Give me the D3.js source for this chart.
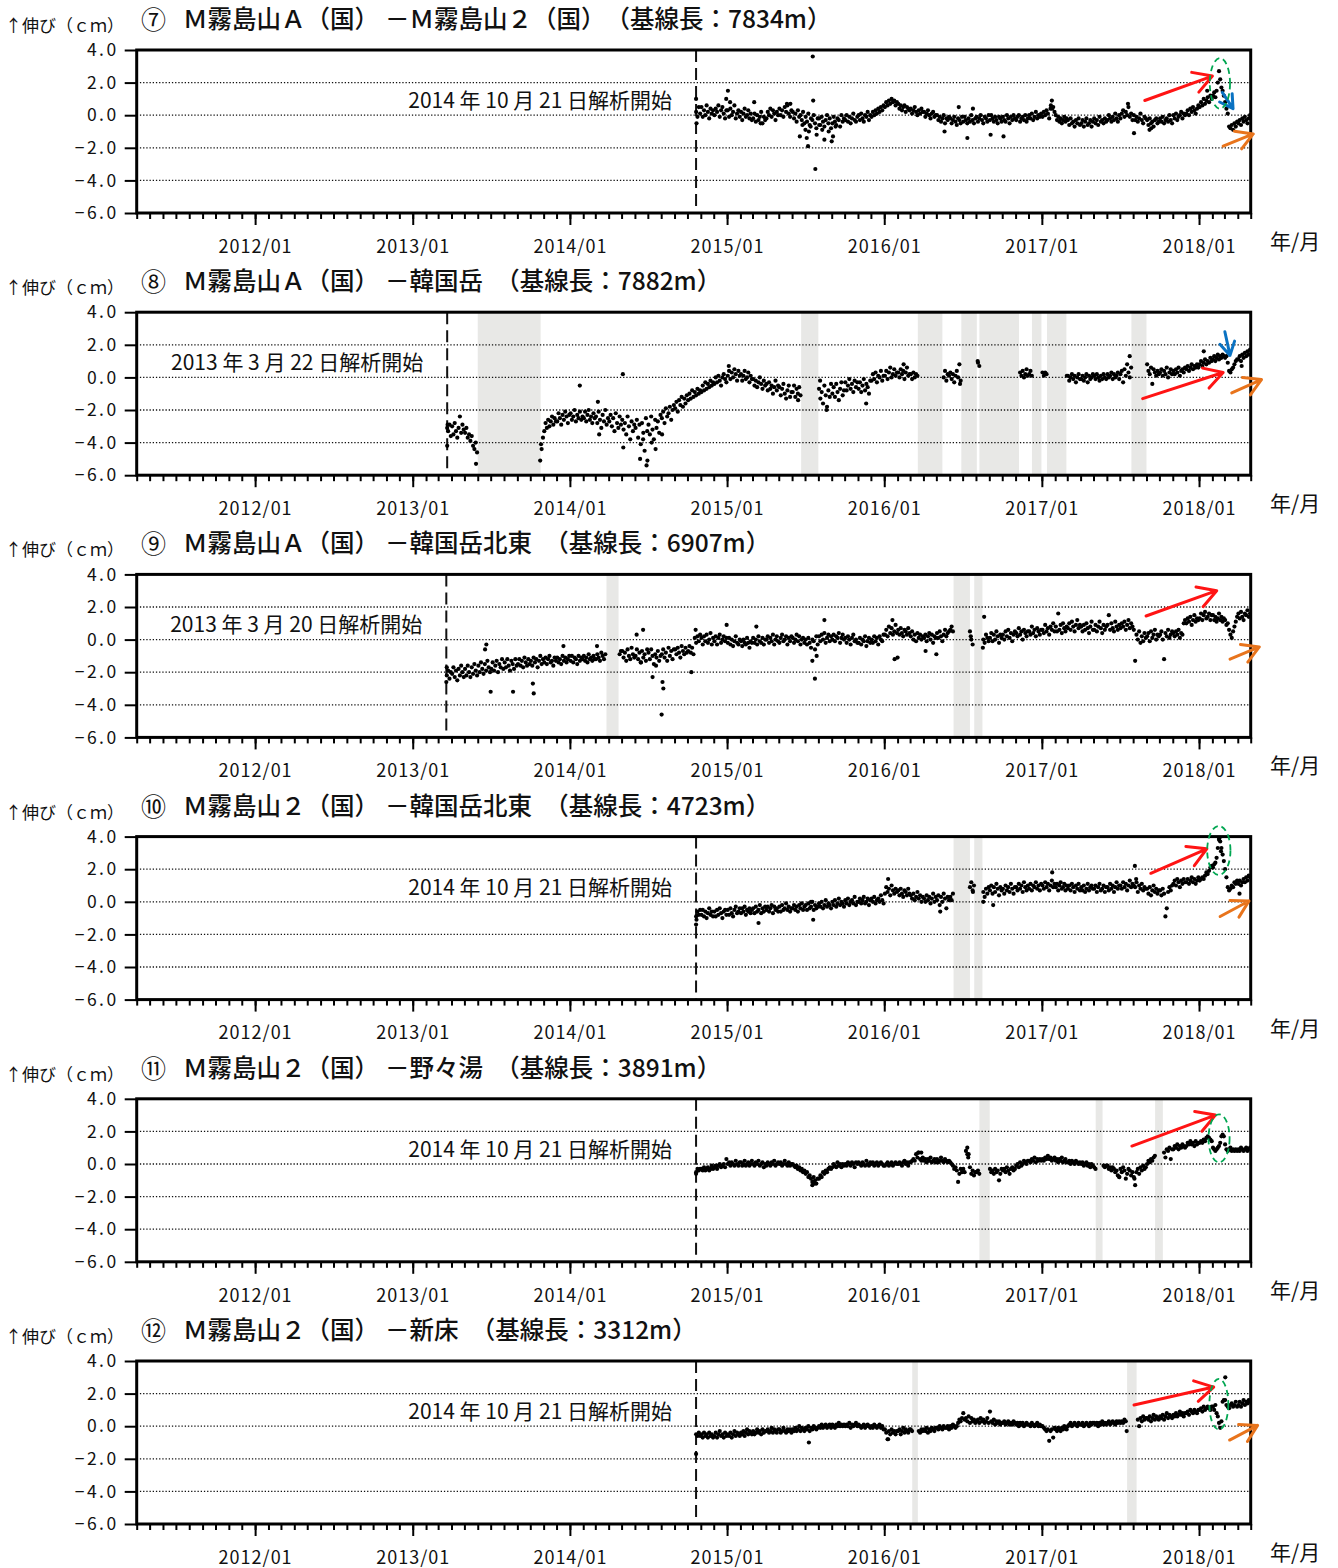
<!DOCTYPE html>
<html lang="ja">
<head>
<meta charset="utf-8">
<title>霧島山 GNSS 基線長変化</title>
<script src="https://cdn.jsdelivr.net/npm/d3@7/dist/d3.min.js"></script>
<style>
  html, body { margin: 0; padding: 0; background: #fff; }
  svg text { font-family: "Noto Sans CJK JP", "Noto Sans", sans-serif; fill: #111; }
</style>
</head>
<body>
<svg id="chart" width="1338" height="1568"></svg>
<script>
// ---------- axes ----------
const timeSpan = ["2011-04-01", "2018-05-01"];
const yTicks = [4, 2, 0, -2, -4, -6];
const gridValues = [2, 0, -2, -4];
const yearTickLabels = ["2012/01", "2013/01", "2014/01", "2015/01", "2016/01", "2017/01", "2018/01"];

// ---------- panel headings ----------
const panelNumbers = ["⑦", "⑧", "⑨", "⑩", "⑪", "⑫"];
const fromStations = ["Ｍ霧島山Ａ（国）", "Ｍ霧島山Ａ（国）", "Ｍ霧島山Ａ（国）", "Ｍ霧島山２（国）", "Ｍ霧島山２（国）", "Ｍ霧島山２（国）"];
const toStations = ["Ｍ霧島山２（国）", "韓国岳", "韓国岳北東", "韓国岳北東", "野々湯", "新床"];
const baselineLengths = [7834, 7882, 6907, 4723, 3891, 3312];
const analysisStart = ["2014-10-21", "2013-03-22", "2013-03-20", "2014-10-21", "2014-10-21", "2014-10-21"];

// ---------- periods without observations (grey bands) ----------
const noDataPeriods = [
  [],
  [["2013-06-01", "2013-10-25"], ["2015-06-22", "2015-08-01"], ["2016-03-19", "2016-05-15"], ["2016-06-28", "2016-08-03"],
   ["2016-08-09", "2016-11-09"], ["2016-12-09", "2016-12-31"], ["2017-01-13", "2017-02-27"], ["2017-07-28", "2017-09-01"]],
  [["2014-03-27", "2014-04-24"], ["2016-06-10", "2016-07-18"], ["2016-07-28", "2016-08-16"]],
  [["2016-06-10", "2016-07-18"], ["2016-07-28", "2016-08-16"]],
  [["2016-08-09", "2016-09-02"], ["2017-05-06", "2017-05-22"], ["2017-09-21", "2017-10-09"]],
  [["2016-03-06", "2016-03-19"], ["2017-07-18", "2017-08-09"]]
];

// ---------- daily baseline changes, in mm, grouped by month ----------
// each row: month, then that month's solutions in date order (null = no solution)
const obs07 = [
["2014-10",null,null,null,null,null,null,2,-1,5,1],
["2014-11",5,-1,3,0,6,2,-2,4,1,3],
["2014-12",0,4,2,6,-1,3,5,1,-2,3],
["2015-01",3,-1,4,0,2,6,-2,1,3,-1],
["2015-02",2,-3,1,4,-1,0,3,-2,1,-3],
["2015-03",-2,1,-4,0,-3,-1,2,-5,-1,-3],
["2015-04",-2,2,0,4,-1,3,1,-3,2,0],
["2015-05",4,0,3,-1,5,2,6,1,-1,3],
["2015-06",2,-2,1,-4,3,-1,0,-3,2,-5],
["2015-07",-1,-4,1,-6,-2,-3,0,-5,-8,-2],
["2015-08",-2,-6,-1,-4,-7,-3,0,-5,-2,-8],
["2015-09",-5,-1,-4,-6,-2,-3,-7,0,-4,-2],
["2015-10",-3,0,-4,-1,-5,-2,1,-3,-4,-1],
["2015-11",0,-3,1,-2,-4,0,-1,2,-3,0],
["2015-12",-1,2,0,3,1,4,2,5,3,6],
["2016-01",5,8,6,9,7,10,8,9,6,8],
["2016-02",7,4,6,3,5,6,2,5,4,3],
["2016-03",4,1,3,5,2,0,3,1,4,2],
["2016-04",2,-1,1,3,0,-2,1,2,-1,0],
["2016-05",0,-3,-1,-4,-2,0,-5,-2,-3,-1],
["2016-06",-2,-5,-3,-1,-4,-6,-2,-3,-5,-1],
["2016-07",-4,-1,-3,-5,-2,-4,0,-3,-5,-2],
["2016-08",-1,-4,-2,0,-3,-5,-1,-2,-4,0],
["2016-09",-3,0,-2,-4,-1,-3,-5,-1,-2,-4],
["2016-10",-1,-3,-4,0,-2,-5,-1,-3,0,-2],
["2016-11",-3,-1,0,-4,-2,-1,-3,0,-4,-2],
["2016-12",0,-2,1,-3,-1,2,-2,0,-1,1],
["2017-01",-1,2,0,3,1,-2,4,9,5,2],
["2017-02",0,-3,-1,-4,-2,-5,-3,-1,-4,-2],
["2017-03",-3,-6,-2,-5,-4,-7,-3,-5,-2,-6],
["2017-04",-5,-3,-7,-4,-2,-6,-5,-3,-7,-4],
["2017-05",-2,-5,-3,-6,-1,-4,-3,-5,-2,-4],
["2017-06",-3,0,-2,-4,-1,-3,1,-2,-4,0],
["2017-07",-2,1,3,-1,2,0,5,-1,1,-3],
["2017-08",0,-3,-1,-4,-2,1,-3,-5,-1,-2],
["2017-09",-3,-6,-2,-5,-4,-7,-3,-2,-5,-4],
["2017-10",-2,-4,-1,-5,-3,-2,-4,0,-3,-5],
["2017-11",0,-2,1,-3,-1,0,2,-2,1,0],
["2017-12",1,3,0,4,2,5,3,1,4,6],
["2018-01",5,8,6,10,7,9,11,8,12,10],
["2018-02",12,14,11,15,20,27,22,17,15,12],
["2018-03",8,4,1,-7,-8,-6,-9,-5,-7,-4],
["2018-04",-5,-3,-6,-2,-4,-1,-3,-5,-2,0]
];
const extra07 = [["2014-10-21",10],["2014-10-22",-5],["2014-12-30",10],["2015-01-03",15],["2015-01-08",8],["2015-03-05",8],
["2015-03-20",-5],["2015-05-20",7],["2015-05-28",7],["2015-06-19",-13],["2015-06-25",-6],["2015-07-02",-9],["2015-07-05",-14],
["2015-07-08",-19],["2015-07-10",-10],["2015-07-14",-7],["2015-07-19",36],["2015-07-20",9],["2015-07-25",-33],["2015-07-28",-12],
["2015-08-03",-6],["2015-08-10",-9],["2015-08-15",-15],["2015-08-25",-10],["2015-09-01",-16],["2015-09-04",-13],["2015-09-10",-7],
["2016-05-20",-10],["2016-06-22",5],["2016-07-12",-14],["2016-07-25",4],["2016-09-04",-12],["2016-10-04",-13],["2017-01-22",6],
["2017-01-25",4],["2017-07-20",7],["2017-08-03",-11],["2017-09-08",-9],["2017-09-12",-8],["2018-01-20",15]];

const obs08 = [
["2013-03",null,null,null,null,null,null,null,-33,-29,-36],
["2013-04",-30,-35,-28,-33,-37,-31,-24,-34,-29,-32],
["2013-05",-34,-31,-37,-35,-39,-36,-42,-44,-40,-46],
["2013-10",null,null,null,null,null,null,null,null,-44,-37],
["2013-11",-33,-28,-31,-26,-30,-27,-24,-29,-25,-27],
["2013-12",-27,-22,-25,-29,-23,-26,-21,-24,-28,-23],
["2014-01",-22,-26,-24,-20,-27,-23,-25,-21,-26,-24],
["2014-02",-25,-21,-27,-23,-20,-26,-24,-28,-22,-25],
["2014-03",-24,-28,-21,-26,-31,-23,-27,-20,-29,-25],
["2014-04",-27,-23,-30,-25,-33,-22,-28,-31,-24,-29],
["2014-05",-26,-32,-28,-35,-24,-30,-38,-27,-33,-29],
["2014-06",-31,-26,-37,-29,-41,-28,-34,-45,-25,-33],
["2014-07",-29,-35,-24,-32,-38,-26,-31,-27,-34,-23],
["2014-08",-25,-21,-28,-19,-24,-22,-18,-26,-20,-17],
["2014-09",-19,-15,-21,-14,-17,-12,-18,-13,-16,-11],
["2014-10",-14,-10,-13,-8,-12,-9,-11,-7,-10,-8],
["2014-11",-9,-5,-8,-3,-7,-4,-6,-2,-5,-3],
["2014-12",-4,0,-3,1,-2,-5,0,2,-1,-3],
["2015-01",1,4,-1,3,0,5,2,-2,4,1],
["2015-02",2,-2,1,4,-1,0,3,-3,1,-1],
["2015-03",-1,-5,-2,-6,-3,0,-4,-7,-2,-5],
["2015-04",-4,-8,-3,-7,-5,-10,-6,-2,-8,-5],
["2015-05",-6,-11,-7,-4,-10,-13,-8,-5,-12,-9],
["2015-06",-9,-5,-12,-7,-10,-6,-11,null,null,null],
["2015-08",-7,-13,-9,-16,-5,-11,-18,-8,-12,-4],
["2015-09",-10,-6,-12,-4,-9,-14,-7,-3,-11,-8],
["2015-10",-3,-8,-5,-1,-7,-4,-9,-2,-6,-3],
["2015-11",-7,-3,-9,-5,-1,-8,-4,-6,-10,-2],
["2015-12",-2,2,-1,3,-3,1,0,4,-2,1],
["2016-01",1,4,-1,3,6,0,2,5,1,3],
["2016-02",3,0,5,2,4,-1,3,6,1,2],
["2016-03",2,-1,3,0,2,1,null,null,null,null],
["2016-05",null,null,null,null,null,0,4,-2,2,1],
["2016-06",3,-1,2,-3,1,4,0,8,-2,null],
["2016-08",null,9,7,null,null,null,null,null,null,null],
["2016-11",null,null,null,3,1,4,0,2,5,1],
["2016-12",2,4,1,null,null,null,null,null,null,null],
["2017-01",3,1,3,2,null,null,null,null,null,null],
["2017-03",1,-2,0,2,-1,1,-3,0,2,-1],
["2017-04",-1,1,-2,0,2,-3,1,-1,0,2],
["2017-05",1,-1,2,0,-2,1,-1,2,0,-1],
["2017-06",2,0,1,3,-1,2,0,1,3,-1],
["2017-07",2,4,-3,5,1,8,3,0,6,null],
["2017-09",8,4,2,6,-4,5,3,1,4,2],
["2017-10",3,5,1,4,2,6,0,3,5,2],
["2017-11",4,2,5,3,6,1,4,5,3,6],
["2017-12",5,7,4,6,8,5,7,6,8,6],
["2018-01",8,10,7,9,11,8,10,9,12,10],
["2018-02",11,13,10,12,14,11,13,12,14,13],
["2018-03",12,13,9,4,3,5,6,8,10,11],
["2018-04",11,13,10,14,12,15,13,16,14,17]
];
const extra08 = [["2013-03-22",-42],["2013-03-22",-31],["2013-03-23",-29],["2013-05-28",-53],["2013-10-24",-51],["2013-10-26",-41],
["2014-01-24",-5],["2014-03-07",-15],["2014-03-10",-35],["2014-05-04",2],["2014-05-05",-43],["2014-06-13",-50],["2014-06-20",-38],
["2014-06-28",-54],["2014-06-30",-51],["2014-07-10",-40],["2014-07-19",-44],["2014-08-03",-35],["2015-01-05",7],["2015-06-15",-14],
["2015-08-05",-2],["2015-08-20",-20],["2015-11-20",-16],["2016-02-15",8],["2016-06-25",-4],["2016-08-05",10],["2017-02-28",1],
["2017-07-24",13],["2018-01-12",16],["2018-04-10",7]];

const obs09 = [
["2013-03",null,null,null,null,null,null,-22,-19,-24,-20],
["2013-04",-21,-17,-23,-19,-25,-18,-22,-16,-20,-23],
["2013-05",-18,-22,-16,-20,-23,-17,-21,-15,-19,-22],
["2013-06",-16,-20,-14,-18,-21,-15,-19,-13,-17,-20],
["2013-07",-18,-14,-19,-16,-13,-20,-15,-17,-12,-18],
["2013-08",-14,-17,-12,-16,-19,-13,-15,-18,-12,-16],
["2013-09",-15,-12,-16,-13,-17,-11,-14,-16,-12,-15],
["2013-10",-13,-16,-11,-14,-12,-17,-13,-10,-15,-12],
["2013-11",-14,-11,-15,-12,-10,-14,-13,-16,-11,-13],
["2013-12",-11,-14,-12,-15,-10,-13,-11,-14,-12,-10],
["2014-01",-13,-10,-14,-11,-12,-15,-10,-13,-11,-12],
["2014-02",-10,-13,-11,-14,-9,-12,-11,-13,-10,-12],
["2014-03",-12,-9,-11,-13,-8,-10,-12,-9,null,null],
["2014-04",null,null,null,null,null,null,null,null,-9,-7],
["2014-05",-7,-11,-8,-13,-6,-10,-12,-5,-9,-11],
["2014-06",-10,-6,-12,-8,-14,-7,-11,-9,-13,-6],
["2014-07",-8,-12,-6,-10,-15,-9,-11,-7,-13,-10],
["2014-08",-9,-6,-11,-8,-13,-5,-10,-7,-12,-6],
["2014-09",-6,-9,-5,-8,-11,-4,-7,-9,-5,-8],
["2014-10",-7,-4,-8,-5,-9,1,-2,2,-1,3],
["2014-11",1,-3,2,-1,3,-2,0,4,-3,1],
["2014-12",-1,2,-3,1,3,-2,0,2,-1,1],
["2015-01",-2,1,-3,0,-4,-1,2,-2,-3,0],
["2015-02",-1,-4,0,-2,-3,1,-2,-5,-1,-2],
["2015-03",1,-2,0,-3,2,-1,-2,1,-3,0],
["2015-04",0,2,-2,1,-1,3,-3,0,2,-1],
["2015-05",-2,1,3,-1,0,2,-3,1,-1,2],
["2015-06",1,-2,0,3,-1,2,-3,0,1,-2],
["2015-07",0,-3,1,-2,-5,0,-1,-6,2,-3],
["2015-08",2,-1,3,0,4,-2,1,3,-1,2],
["2015-09",0,3,-1,2,1,4,-2,1,3,0],
["2015-10",1,-2,2,0,-3,1,3,-1,0,-2],
["2015-11",-2,1,-3,0,-1,2,-4,-1,1,-2],
["2015-12",0,-2,2,-1,1,-3,2,0,-1,3],
["2016-01",3,6,2,8,4,7,3,5,9,4],
["2016-02",6,3,7,4,2,6,5,3,7,4],
["2016-03",2,5,0,3,-1,4,1,3,0,2],
["2016-04",1,3,-1,2,4,0,3,-2,2,1],
["2016-05",4,1,5,2,-1,3,6,2,4,5],
["2016-06",6,8,5,null,null,null,null,null,null,null],
["2016-07",null,null,null,null,null,5,0,-3,null,null],
["2016-08",null,null,null,null,null,0,-2,3,1,-1],
["2016-09",1,4,-1,3,0,5,2,-2,3,1],
["2016-10",3,0,5,2,6,1,4,-1,3,5],
["2016-11",4,2,7,3,5,0,6,4,2,5],
["2016-12",5,3,8,4,6,2,7,5,3,6],
["2017-01",6,4,9,5,7,3,8,6,10,5],
["2017-02",8,5,16,6,9,4,10,7,5,8],
["2017-03",7,10,6,11,8,5,9,12,7,9],
["2017-04",8,5,9,6,10,7,4,8,11,6],
["2017-05",6,9,5,8,11,7,4,9,6,8],
["2017-06",9,15,6,10,7,5,11,8,6,9],
["2017-07",7,10,8,11,6,9,12,7,10,8],
["2017-08",6,-13,3,0,5,-2,2,-1,4,1],
["2017-09",2,4,-1,5,1,3,6,0,3,2],
["2017-10",3,5,0,-12,4,2,6,1,3,5],
["2017-11",4,2,5,3,6,1,4,3,10,12],
["2017-12",10,13,11,14,9,12,15,11,13,12],
["2018-01",13,16,12,15,17,13,14,16,12,15],
["2018-02",15,12,14,11,13,16,12,14,11,13],
["2018-03",12,9,10,6,3,1,5,8,11,14],
["2018-04",16,13,17,14,12,16,15,18,14,16]
];
const extra09 = [["2013-03-20",-26],["2013-03-21",-17],["2013-06-18",-6],["2013-06-21",-3],["2013-07-01",-32],["2013-08-22",-32],
["2013-10-07",-27],["2013-10-09",-33],["2013-12-17",-4],["2014-03-05",-4],["2014-06-05",3],["2014-06-15",-14],["2014-06-20",6],
["2014-07-12",-23],["2014-07-20",-16],["2014-08-02",-46],["2014-08-04",-26],["2014-08-06",-30],["2014-10-10",-20],["2014-10-20",6],
["2014-12-31",9],["2015-03-10",8],["2015-07-18",-13],["2015-07-24",-24],["2015-07-28",-10],["2015-08-15",12],["2016-01-20",12],
["2016-01-25",-12],["2016-02-01",-11],["2016-04-06",-7],["2016-05-01",-9],["2016-07-20",2],["2016-08-17",-5],["2016-08-20",14]];

const obs10 = [
["2014-10",null,null,null,null,null,null,-9,-6,-8,-5],
["2014-11",-8,-5,-9,-6,-10,-7,-4,-8,-6,-9],
["2014-12",-6,-9,-5,-8,-4,-7,-10,-6,-5,-8],
["2015-01",-5,-8,-4,-7,-9,-5,-3,-7,-6,-4],
["2015-02",-7,-4,-6,-3,-8,-5,-6,-4,-7,-5],
["2015-03",-4,-7,-3,-6,-5,-2,-7,-4,-6,-3],
["2015-04",-5,-3,-6,-4,-2,-7,-3,-5,-4,-6],
["2015-05",-3,-6,-2,-5,-4,-1,-5,-3,-6,-4],
["2015-06",-4,-2,-5,-3,-6,-2,-4,-1,-5,-3],
["2015-07",-2,-5,-1,-4,-3,0,-5,-2,-4,-3],
["2015-08",-1,-3,0,-4,-2,1,-3,-1,-2,-4],
["2015-09",0,-2,1,-3,-1,2,-2,0,-1,-3],
["2015-10",1,-1,2,-2,0,1,-1,3,-2,0],
["2015-11",0,2,-1,1,3,-1,0,2,-2,1],
["2015-12",2,0,3,-1,1,2,0,4,1,-1],
["2016-01",5,9,6,8,4,10,7,5,8,6],
["2016-02",7,4,8,5,3,7,6,4,8,5],
["2016-03",4,2,5,1,3,6,2,4,0,3],
["2016-04",2,0,4,1,3,-1,2,5,0,3],
["2016-05",1,4,-2,3,0,5,2,-4,3,1],
["2016-06",3,1,5,null,null,null,null,null,null,null],
["2016-07",null,null,null,null,null,9,12,7,10,null],
["2016-08",null,null,null,null,null,6,3,8,5,9],
["2016-09",7,10,5,9,6,11,8,4,9,7],
["2016-10",8,5,10,7,9,6,11,8,5,9],
["2016-11",9,7,11,8,10,6,12,9,7,10],
["2016-12",8,11,7,10,9,12,8,10,7,11],
["2017-01",10,8,12,9,11,7,10,13,9,11],
["2017-02",9,11,7,10,12,8,9,11,7,10],
["2017-03",8,10,7,11,9,6,10,8,11,7],
["2017-04",9,7,10,6,8,11,7,9,10,8],
["2017-05",8,10,6,9,11,7,8,10,6,9],
["2017-06",9,7,11,8,10,6,9,12,8,10],
["2017-07",10,8,12,9,11,7,10,13,9,11],
["2017-08",10,9,12,6,10,8,11,7,9,8],
["2017-09",8,5,9,4,7,10,6,8,5,7],
["2017-10",7,4,8,5,-9,-4,6,9,7,10],
["2017-11",11,13,10,14,12,9,13,11,14,12],
["2017-12",12,14,11,13,15,12,14,11,13,15],
["2018-01",13,14,15,14,16,18,17,19,21,22],
["2018-02",21,23,24,27,33,38,37,33,29,25],
["2018-03",20,15,9,7,8,10,9,12,11,13],
["2018-04",11,13,10,12,14,12,15,13,16,15]
];
const extra10 = [["2014-10-21",-14],["2014-10-22",-11],["2015-03-15",-13],["2015-07-15",0],["2015-07-20",-11],["2016-01-10",14],
["2016-05-10",-6],["2016-07-25",6],["2016-08-18",0],["2016-09-10",-2],["2017-01-25",18],["2017-08-05",22],["2017-08-08",14],
["2018-02-17",39],["2018-02-21",31],["2018-04-05",5]];

const obs11 = [
["2014-10",null,null,null,null,null,null,-5,-3,-4,-3],
["2014-11",-3,-4,-2,-4,-3,-2,-4,-3,-1,-3],
["2014-12",-2,-1,-3,-1,0,-2,-1,0,-2,3],
["2015-01",0,1,-1,1,0,-1,2,0,-1,1],
["2015-02",1,-1,0,2,-1,0,1,-1,0,2],
["2015-03",0,-1,1,0,2,-1,0,1,-2,0],
["2015-04",-1,1,0,-1,1,0,2,-1,0,1],
["2015-05",0,1,-1,0,2,0,-1,1,-1,0],
["2015-06",0,-1,-2,-1,-3,-2,-4,-3,-5,-4],
["2015-07",-6,-5,-8,-7,-9,-11,-8,-10,-12,-9],
["2015-08",-9,-7,-8,-5,-6,-4,-5,-3,-2,-3],
["2015-09",-2,0,-1,-2,1,-1,0,-2,0,-1],
["2015-10",0,-1,1,0,-1,1,0,-2,1,0],
["2015-11",1,0,-1,1,0,-1,2,0,-1,1],
["2015-12",0,1,-1,0,1,-1,0,1,0,-1],
["2016-01",-1,0,1,-1,0,1,-1,0,1,0],
["2016-02",0,1,0,-1,1,2,0,1,-1,1],
["2016-03",1,2,3,2,6,4,7,3,2,4],
["2016-04",2,3,1,3,2,4,1,2,3,1],
["2016-05",3,1,2,4,2,1,3,2,1,2],
["2016-06",1,0,-1,-3,-2,-4,-11,-6,-3,-5],
["2016-07",-3,-5,8,10,6,-2,-6,-4,-7,-5],
["2016-08",-5,-4,-6,null,null,null,null,null,null,null],
["2016-09",-3,-5,-4,-6,-3,-5,-4,-10,-6,-3],
["2016-10",-4,-3,-5,-2,-4,-6,-3,-2,-4,-3],
["2016-11",-1,0,-2,1,-1,0,2,1,0,2],
["2016-12",2,1,3,2,4,1,3,2,3,2],
["2017-01",3,2,4,3,5,3,4,2,3,4],
["2017-02",2,3,1,3,2,4,1,2,3,1],
["2017-03",1,2,0,2,1,0,2,1,0,1],
["2017-04",0,1,-1,0,1,-1,0,-2,0,-1],
["2017-05",-2,-3,null,null,null,null,null,-1,-2,-1],
["2017-06",-1,-3,-2,-4,-2,-3,-5,-4,-7,-8],
["2017-07",-3,-5,-2,-4,-9,-6,-3,-4,-7,-5],
["2017-08",-8,-13,-5,-3,-6,-2,-4,-1,-3,-2],
["2017-09",0,2,1,3,2,4,5,null,null,null],
["2017-10",null,null,null,7,4,9,8,10,3,9],
["2017-11",9,11,10,12,9,11,10,12,11,10],
["2017-12",11,13,12,14,12,13,11,14,12,13],
["2018-01",13,14,13,15,14,16,17,16,15,14],
["2018-02",10,9,8,9,10,11,13,17,18,17],
["2018-03",12,9,8,9,10,8,9,8,9,8],
["2018-04",9,8,10,9,8,9,10,8,9,10]
];
const extra11 = [["2014-10-21",-6],["2015-07-18",-13],["2015-07-24",-12],["2016-03-20",7],["2016-03-27",7],["2016-07-12",6],
["2016-07-14",4],["2017-06-30",-8],["2017-08-04",-9]];

const obs12 = [
["2014-10",null,null,null,null,null,null,-5,-6,-4,-6],
["2014-11",-5,-7,-4,-6,-5,-7,-4,-6,-5,-7],
["2014-12",-6,-4,-7,-5,-3,-6,-5,-7,-4,-6],
["2015-01",-5,-6,-4,-7,-5,-3,-6,-4,-5,-6],
["2015-02",-4,-5,-3,-6,-4,-2,-5,-3,-4,-5],
["2015-03",-3,-5,-4,-2,-4,-3,-5,-2,-4,-3],
["2015-04",-3,-2,-4,-3,-1,-4,-2,-3,-4,-2],
["2015-05",-2,-4,-3,-1,-3,-4,-2,-3,-2,-4],
["2015-06",-2,-3,-1,-3,-2,0,-3,-1,-2,-3],
["2015-07",-1,-2,0,-3,-1,-2,0,-1,-2,-1],
["2015-08",0,-1,1,-1,0,1,-1,0,1,-1],
["2015-09",1,0,-1,1,0,2,0,1,0,1],
["2015-10",0,1,0,2,-1,1,0,1,2,0],
["2015-11",1,0,-1,0,1,-1,0,1,0,-1],
["2015-12",0,-1,1,0,-1,0,1,-1,0,-2],
["2016-01",-2,-4,-8,-3,-5,-2,-4,-3,-5,-3],
["2016-02",-3,-2,-5,-3,-1,-4,-2,-3,-4,-2],
["2016-03",-2,-3,null,null,null,null,-3,-4,-2,-3],
["2016-04",-2,-3,-1,-4,-2,-3,-1,-2,-3,-1],
["2016-05",-1,-2,0,-1,-2,0,-1,-1,0,-2],
["2016-06",0,-1,1,0,-1,0,2,4,3,5],
["2016-07",8,4,5,3,6,2,5,3,4,2],
["2016-08",3,4,2,5,3,4,2,3,5,2],
["2016-09",9,3,2,4,1,3,2,3,1,2],
["2016-10",2,3,1,2,3,1,2,1,3,2],
["2016-11",1,2,0,2,1,2,0,1,2,1],
["2016-12",1,0,2,1,0,1,2,0,1,0],
["2017-01",0,-1,-2,-3,-2,-9,-3,-2,-7,-1],
["2017-02",-2,-3,-1,-2,-3,-1,-2,0,-1,-2],
["2017-03",0,1,2,0,1,2,1,0,2,1],
["2017-04",1,2,0,1,2,1,0,2,1,2],
["2017-05",2,1,2,0,2,1,3,1,2,1],
["2017-06",2,3,1,2,3,2,1,3,2,3],
["2017-07",2,3,2,4,3,null,null,null,null,null],
["2017-08",null,null,null,4,0,5,3,6,4,5],
["2017-09",5,4,6,3,5,7,4,6,5,4],
["2017-10",6,5,7,4,6,8,5,7,6,5],
["2017-11",7,6,8,6,7,9,7,8,6,8],
["2017-12",8,9,7,10,9,8,10,9,8,10],
["2018-01",10,11,9,12,10,11,12,11,10,12],
["2018-02",12,10,13,8,6,2,-1,3,15,16],
["2018-03",16,13,12,11,13,14,12,13,15,12],
["2018-04",13,15,12,14,16,13,15,14,16,15]
];
const extra12 = [["2014-10-21",-17],["2015-07-10",-10],["2016-01-10",-8],["2017-07-17",-3],["2018-03-03",30]];

const observations = [obs07, obs08, obs09, obs10, obs11, obs12];
const extraPoints = [extra07, extra08, extra09, extra10, extra11, extra12];

// ---------- hand-drawn highlights ----------
// panel, kind, tail date, tail value (cm), head date, head value (cm)
const arrowMarks = [
  [0, "rise", "2017-08-28", 0.9, "2018-02-01", 2.4],
  [0, "drop", "2018-02-24", 1.4, "2018-03-21", 0.4],
  [0, "recent", "2018-02-26", -1.9, "2018-05-07", -1.15],
  [1, "drop", "2018-03-02", 2.8, "2018-03-14", 1.35],
  [1, "rise", "2017-08-23", -1.3, "2018-02-26", 0.3],
  [1, "recent", "2018-03-18", -0.95, "2018-05-26", -0.13],
  [2, "rise", "2017-08-31", 1.45, "2018-02-11", 3.0],
  [2, "recent", "2018-03-14", -1.2, "2018-05-21", -0.45],
  [3, "rise", "2017-09-11", 1.75, "2018-01-19", 3.25],
  [3, "recent", "2018-02-19", -0.9, "2018-04-27", 0.05],
  [4, "rise", "2017-07-29", 1.1, "2018-02-08", 3.0],
  [5, "rise", "2017-08-03", 1.3, "2018-02-04", 2.4],
  [5, "recent", "2018-03-13", -0.85, "2018-05-17", 0.05]
];
// panel, from date, to date, upper value (cm), lower value (cm)
const ringMarks = [
  [0, "2018-01-26", "2018-03-14", 3.5, 0.4],
  [3, "2018-01-20", "2018-03-15", 4.65, 1.65],
  [4, "2018-01-23", "2018-03-13", 3.05, 0.1],
  [5, "2018-01-25", "2018-03-10", 2.9, -0.2]
];

// ---------- drawing ----------
const arrowStyle = {
  rise:   { color: "#ff1414", width: 3, head: 21 },
  drop:   { color: "#0a72c2", width: 3, head: 15 },
  recent: { color: "#e8741c", width: 3, head: 19 }
};
const plotLeft = 136.7, plotRight = 1250.7, plotH = 163, firstTop = 50, panelStep = 262.2;

const parseDay = d3.timeParse("%Y-%m-%d");
const parseMonth = d3.timeParse("%Y-%m");
const parseTick = d3.timeParse("%Y/%m");
const svg = d3.select("#chart");

const x = d3.scaleTime().domain(timeSpan.map(parseDay)).range([plotLeft, plotRight]);

// spread each month's solutions evenly over that month
function expand(rows, extras) {
  const pts = [];
  rows.forEach(([label, ...vals]) => {
    const start = parseMonth(label), end = d3.timeMonth.offset(start, 1);
    const span = end - start;
    vals.forEach((v, i) => {
      if (v !== null) pts.push([new Date(+start + (i + 0.5) * span / vals.length), v / 10]);
    });
  });
  extras.forEach(([d, v]) => pts.push([parseDay(d), v / 10]));
  return pts;
}

function arrowPath(x1, y1, x2, y2, len) {
  const a = Math.atan2(y2 - y1, x2 - x1), s = Math.PI / 6;
  const w1 = [x2 - len * Math.cos(a - s), y2 - len * Math.sin(a - s)];
  const w2 = [x2 - len * Math.cos(a + s), y2 - len * Math.sin(a + s)];
  return `M${x1},${y1}L${x2},${y2}M${w1[0]},${w1[1]}L${x2},${y2}L${w2[0]},${w2[1]}`;
}

const startFmt = d => `${d.getFullYear()} 年 ${d.getMonth() + 1} 月 ${d.getDate()} 日解析開始`;

panelNumbers.forEach((num, i) => {
  const top = firstTop + i * panelStep, bottom = top + plotH;
  const y = d3.scaleLinear().domain([-6, 4]).range([bottom, top]);
  const g = svg.append("g");

  g.append("clipPath").attr("id", `clip${i}`)
    .append("rect").attr("x", plotLeft).attr("y", top).attr("width", plotRight - plotLeft).attr("height", plotH);

  // grey bands
  g.append("g").selectAll("rect").data(noDataPeriods[i]).join("rect")
    .attr("x", d => x(parseDay(d[0]))).attr("width", d => x(parseDay(d[1])) - x(parseDay(d[0])))
    .attr("y", top).attr("height", plotH).attr("fill", "#e8e8e6");

  // dotted grid
  g.append("g").selectAll("line").data(gridValues).join("line")
    .attr("x1", plotLeft).attr("x2", plotRight).attr("y1", d => y(d)).attr("y2", d => y(d))
    .attr("stroke", "#111").attr("stroke-width", 1.3).attr("stroke-dasharray", "1.3,1.9");

  // analysis start
  const s = parseDay(analysisStart[i]);
  g.append("line").attr("x1", x(s)).attr("x2", x(s)).attr("y1", top).attr("y2", bottom)
    .attr("stroke", "#111").attr("stroke-width", 2).attr("stroke-dasharray", "12,6");
  g.append("text").attr("x", x(s) - 24).attr("y", top + 58).attr("text-anchor", "end")
    .attr("font-size", 21).text(startFmt(s));

  // observations
  g.append("g").attr("clip-path", `url(#clip${i})`).selectAll("circle")
    .data(expand(observations[i], extraPoints[i])).join("circle")
    .attr("cx", d => x(d[0])).attr("cy", d => y(d[1])).attr("r", 2.1).attr("fill", "#000");

  // frame
  g.append("rect").attr("x", plotLeft).attr("y", top).attr("width", plotRight - plotLeft).attr("height", plotH)
    .attr("fill", "none").attr("stroke", "#000").attr("stroke-width", 3);

  // x axis: monthly minor ticks + yearly labelled ticks
  const xMinor = g.append("g").attr("transform", `translate(0,${bottom})`)
    .call(d3.axisBottom(x).ticks(d3.timeMonth.every(1)).tickSize(6).tickFormat(""));
  const xMajor = g.append("g").attr("transform", `translate(0,${bottom})`)
    .call(d3.axisBottom(x).tickValues(yearTickLabels.map(parseTick)).tickSize(12).tickPadding(15)
      .tickFormat(d3.timeFormat("%Y/%m")));
  [xMinor, xMajor].forEach(a => {
    a.select(".domain").remove();
    a.selectAll("line").attr("stroke", "#000").attr("stroke-width", 2);
  });
  xMajor.selectAll("text").attr("font-size", 18).attr("letter-spacing", 1)
    .attr("font-family", '"Noto Sans CJK JP", sans-serif').attr("fill", "#111");
  g.append("text").attr("x", 1270).attr("y", bottom + 36).attr("font-size", 21).text("年/月");

  // y axis
  const yAx = g.append("g").attr("transform", `translate(${plotLeft},0)`)
    .call(d3.axisLeft(y).tickValues(yTicks).tickSize(12).tickPadding(6).tickFormat(d3.format(".1f")));
  yAx.select(".domain").remove();
  yAx.selectAll("line").attr("stroke", "#000").attr("stroke-width", 2);
  yAx.selectAll("text").attr("font-size", 17.5).attr("letter-spacing", 2.5)
    .attr("font-family", '"Noto Sans CJK JP", sans-serif').attr("fill", "#111");

  // headings
  g.append("text").attr("x", 5).attr("y", top - 18).attr("font-size", 17).text("↑伸び（ｃｍ）");
  g.append("text").attr("x", 141).attr("y", top - 21).attr("font-size", 25).text(num);
  g.append("text").attr("x", 183).attr("y", top - 22).attr("font-size", 24.5).attr("font-weight", 500)
    .text(fromStations[i]);
  g.append("text").attr("x", 385).attr("y", top - 22).attr("font-size", 24.5).attr("font-weight", 500)
    .text(`－${toStations[i]}　（基線長：${baselineLengths[i]}m）`);

  // highlights
  arrowMarks.filter(a => a[0] === i).forEach(([, kind, d1, v1, d2, v2]) => {
    const st = arrowStyle[kind];
    g.append("path").attr("d", arrowPath(x(parseDay(d1)), y(v1), x(parseDay(d2)), y(v2), st.head))
      .attr("fill", "none").attr("stroke", st.color).attr("stroke-width", st.width)
      .attr("stroke-linecap", "round").attr("stroke-linejoin", "round");
  });
  ringMarks.filter(r => r[0] === i).forEach(([, d1, d2, vTop, vBot]) => {
    const xa = x(parseDay(d1)), xb = x(parseDay(d2));
    g.append("ellipse").attr("cx", (xa + xb) / 2).attr("cy", (y(vTop) + y(vBot)) / 2)
      .attr("rx", (xb - xa) / 2).attr("ry", (y(vBot) - y(vTop)) / 2)
      .attr("fill", "none").attr("stroke", "#00a651").attr("stroke-width", 1.8).attr("stroke-dasharray", "6,4");
  });
});
</script>
</body>
</html>
